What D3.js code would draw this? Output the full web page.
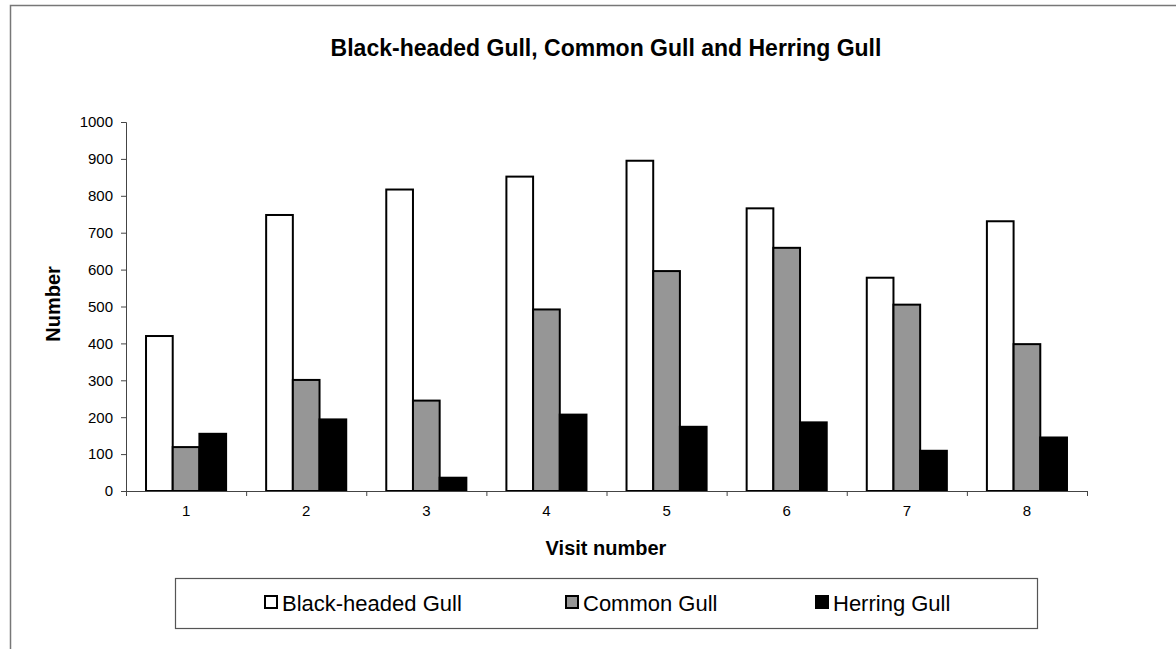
<!DOCTYPE html>
<html>
<head>
<meta charset="utf-8">
<script src="https://cdn.jsdelivr.net/npm/d3@7/dist/d3.min.js"></script>
<style>
  html, body { margin: 0; padding: 0; background: #fff; }
  svg { display: block; font-family: Arial, "Liberation Sans", sans-serif; }
</style>
</head>
<body>
<svg id="chart" width="1176" height="649"></svg>
<script>
const visits = ["1", "2", "3", "4", "5", "6", "7", "8"];
const seriesNames = ["Black-headed Gull", "Common Gull", "Herring Gull"];
const blackHeaded = [420, 748, 817, 852, 895, 766, 578, 731];
const common = [119, 301, 245, 492, 596, 659, 505, 398];
const herring = [155, 194, 36, 207, 174, 186, 109, 145];
const yTicks = [0, 100, 200, 300, 400, 500, 600, 700, 800, 900, 1000];
const seriesColors = ["#ffffff", "#969696", "#000000"];

const seriesValues = [blackHeaded, common, herring];
const table = visits.map((v, i) => ({
  visit: v,
  values: seriesNames.map((s, j) => ({ series: s, idx: j, value: seriesValues[j][i] }))
}));

const svg = d3.select("#chart");

// outer chart border (extends beyond right/bottom edge)
svg.append("path")
  .attr("d", "M10.5,649 L10.5,5.5 L1176,5.5")
  .attr("fill", "none").attr("stroke", "#777").attr("stroke-width", 1.5);

const plot = { left: 126, right: 1087, top: 122, bottom: 491 };

const x0 = d3.scaleBand().domain(visits).range([plot.left, plot.right])
  .paddingInner(1/3).paddingOuter(1/6);
const x1 = d3.scaleBand().domain(seriesNames).range([0, x0.bandwidth()]).padding(0);
const y = d3.scaleLinear().domain([0, 1000]).range([plot.bottom, plot.top]);
const color = d3.scaleOrdinal().domain(seriesNames).range(seriesColors);

// title
svg.append("text")
  .attr("x", 606).attr("y", 56)
  .attr("text-anchor", "middle")
  .attr("font-size", 23).attr("font-weight", "bold")
  .text("Black-headed Gull, Common Gull and Herring Gull");

// bars
const groups = svg.append("g").selectAll("g").data(table).join("g")
  .attr("transform", d => `translate(${x0(d.visit)},0)`);
groups.selectAll("rect").data(d => d.values).join("rect")
  .attr("x", d => x1(d.series))
  .attr("y", d => y(d.value))
  .attr("width", x1.bandwidth())
  .attr("height", d => y(0) - y(d.value))
  .attr("fill", d => color(d.series))
  .attr("stroke", "#000").attr("stroke-width", 2);

// y axis
const yAxis = d3.axisLeft(y).tickValues(yTicks).tickFormat(d3.format("d")).tickSize(5).tickPadding(8);
const gy = svg.append("g").attr("transform", `translate(${plot.left},0)`).call(yAxis);
gy.select(".domain").attr("stroke", "#444");
gy.selectAll(".tick line").attr("stroke", "#444");
gy.selectAll(".tick text").attr("font-size", 15).attr("fill", "#000")
  .attr("font-family", "Arial, 'Liberation Sans', sans-serif");

// x axis: ticks at category boundaries
const xAxisScale = d3.scaleLinear().domain([0, visits.length]).range([plot.left, plot.right]);
const gx = svg.append("g").attr("transform", `translate(0,${plot.bottom})`)
  .call(d3.axisBottom(xAxisScale).tickValues(d3.range(visits.length + 1)).tickSize(5).tickFormat(""));
gx.select(".domain").attr("stroke", "#444");
gx.selectAll(".tick line").attr("stroke", "#444");
const gxl = svg.append("g").attr("transform", `translate(0,${plot.bottom})`)
  .call(d3.axisBottom(x0).tickSize(0).tickPadding(14));
gxl.select(".domain").remove();
gxl.selectAll(".tick text").attr("font-size", 15).attr("fill", "#000")
  .attr("font-family", "Arial, 'Liberation Sans', sans-serif");

// axis titles
svg.append("text")
  .attr("transform", "translate(60,304) rotate(-90)")
  .attr("text-anchor", "middle")
  .attr("font-size", 20).attr("font-weight", "bold")
  .text("Number");
svg.append("text")
  .attr("x", 606).attr("y", 555)
  .attr("text-anchor", "middle")
  .attr("font-size", 20).attr("font-weight", "bold")
  .text("Visit number");

// legend
const legend = svg.append("g");
legend.append("rect")
  .attr("x", 175.5).attr("y", 578.5).attr("width", 862).attr("height", 50)
  .attr("fill", "#fff").attr("stroke", "#555").attr("stroke-width", 1.2);
const legendX = [264, 565, 815];
const items = legend.selectAll("g.item").data(seriesNames).join("g")
  .attr("class", "item")
  .attr("transform", (d, i) => `translate(${legendX[i]},603)`);
items.append("rect")
  .attr("x", 1).attr("y", -7).attr("width", 12).attr("height", 12)
  .attr("fill", d => color(d)).attr("stroke", "#000").attr("stroke-width", 2);
items.append("text")
  .attr("x", 18).attr("y", 8)
  .attr("font-size", 22)
  .text(d => d);
</script>
</body>
</html>
